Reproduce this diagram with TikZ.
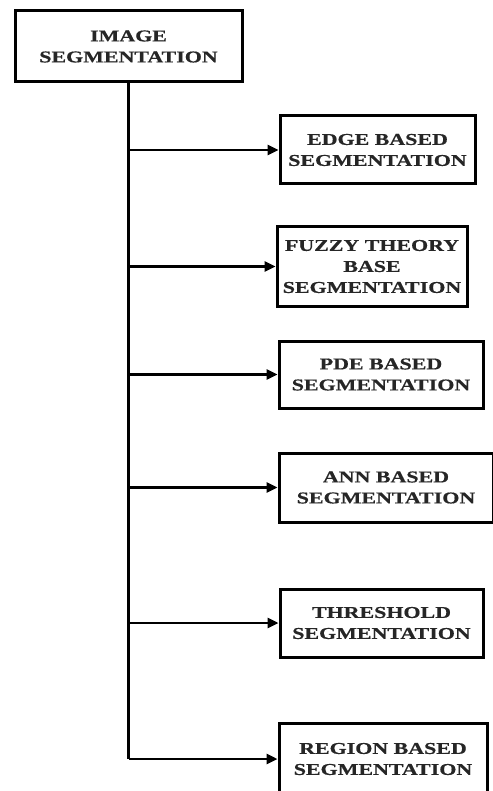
\documentclass[tikz,border=0pt]{standalone}
\usepackage{fontspec}
\newfontfamily\lblfont{Liberation Serif Bold}[FakeStretch=1.33,FakeBold=0.6]
\usetikzlibrary{arrows.meta}
\begin{document}
\begin{tikzpicture}[x=1pt,y=-1pt,
  box/.style={draw=black,line width=3pt,fill=white,inner sep=0pt,
    align=center,text=black!85,font=\lblfont\fontsize{16.5}{21}\selectfont},
  arr/.style={line width=2.6pt,-{Triangle[length=11pt,width=10pt]}},
  trunk/.style={line width=3pt}]
\useasboundingbox (0,0) rectangle (492,791);
% root box
\node[box,minimum width=227pt,minimum height=71pt] (root) at (128.5,46.5) {IMAGE\\SEGMENTATION};
% method boxes
\node[box,minimum width=195pt,minimum height=68pt] (e1) at (377.5,150) {EDGE BASED\\SEGMENTATION};
\node[box,minimum width=190pt,minimum height=79pt] (e2) at (372,266.5) {FUZZY THEORY\\BASE\\SEGMENTATION};
\node[box,minimum width=204pt,minimum height=67pt] (e3) at (381,374.5) {PDE BASED\\SEGMENTATION};
\node[box,minimum width=214pt,minimum height=69pt] (e4) at (386,487.5) {ANN BASED\\SEGMENTATION};
\node[box,minimum width=203pt,minimum height=68pt] (e5) at (381.5,623) {THRESHOLD\\SEGMENTATION};
\node[box,minimum width=208pt,minimum height=72pt] (e6) at (383,759) {REGION BASED\\SEGMENTATION};
% trunk and branches
\draw[trunk] (root.south) -- (root.south |- e6.west);
\foreach \n in {e1,e2,e3,e4,e5,e6}
  \draw[arr] (root.south |- \n.west) -- (\n.west);
\end{tikzpicture}
\end{document}
